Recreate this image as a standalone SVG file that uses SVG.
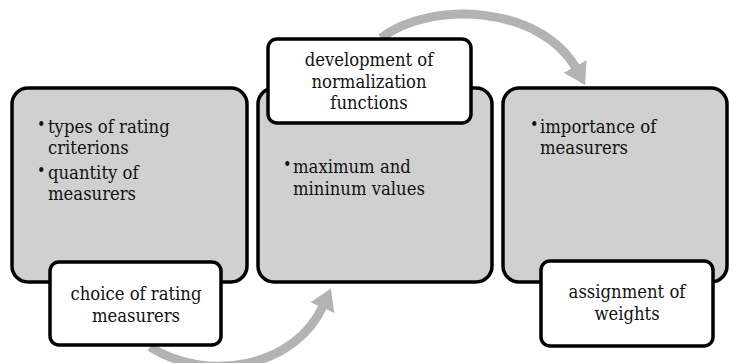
<svg xmlns="http://www.w3.org/2000/svg" width="730" height="363" viewBox="0 0 730 363">
<style>
.gbox{fill:#d0d0d0;stroke:#000;stroke-width:3.5}
.wbox{fill:#fff;stroke:#000;stroke-width:3.5}
.t{font-family:'DejaVu Serif Condensed','DejaVu Serif',serif;font-stretch:condensed;font-size:18.3px;fill:#111}
.b{font-size:16px}
.c{text-anchor:middle}
.arr{fill:none;stroke:#b3b3b3;stroke-width:9}
</style>
<defs>
<marker id="ah" markerUnits="userSpaceOnUse" markerWidth="30" markerHeight="30" refX="4" refY="13" orient="auto">
<polygon points="0,0 21,13 0,26" fill="#b3b3b3"/>
</marker>
</defs>
<g id="connectors">
<path class="arr" d="M150,347 C205,382 295,370 324,304" marker-end="url(#ah)"/>
<path class="arr" d="M381,38 C430,0 542,5 577,70" marker-end="url(#ah)"/>
</g>
<g id="node1">
<rect class="gbox" x="12" y="88" width="235" height="194" rx="16"/>
<text class="t b" x="37" y="130">•</text>
<text class="t" x="48" y="133">types of rating</text>
<text class="t" x="48" y="154">criterions</text>
<text class="t b" x="37" y="176">•</text>
<text class="t" x="48" y="179">quantity of</text>
<text class="t" x="48" y="200">measurers</text>
</g>
<g id="label1">
<rect class="wbox" x="50" y="262" width="171" height="83" rx="9"/>
<text class="t c" x="136" y="300">choice of rating</text>
<text class="t c" x="136" y="322">measurers</text>
</g>
<g id="node2">
<rect class="gbox" x="258" y="88" width="234" height="194" rx="16"/>
<text class="t b" x="283" y="170">•</text>
<text class="t" x="293" y="173">maximum and</text>
<text class="t" x="293" y="195">mininum values</text>
</g>
<g id="label2">
<rect class="wbox" x="268" y="39" width="203" height="84" rx="9"/>
<text class="t c" x="369" y="66">development of</text>
<text class="t c" x="369" y="88">normalization</text>
<text class="t c" x="369" y="109">functions</text>
</g>
<g id="node3">
<rect class="gbox" x="503" y="88" width="224" height="194" rx="16"/>
<text class="t b" x="530" y="130">•</text>
<text class="t" x="540" y="133">importance of</text>
<text class="t" x="540" y="154">measurers</text>
</g>
<g id="label3">
<rect class="wbox" x="541" y="261" width="172" height="85" rx="9"/>
<text class="t c" x="627" y="298">assignment of</text>
<text class="t c" x="627" y="320">weights</text>
</g>
</svg>
